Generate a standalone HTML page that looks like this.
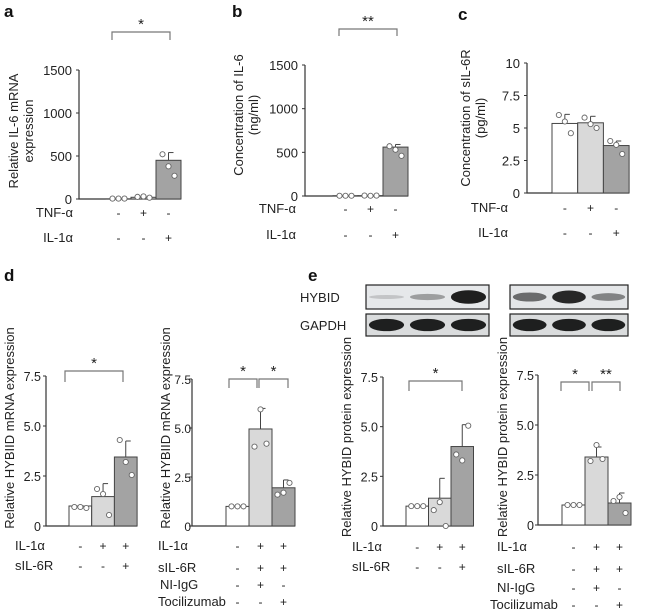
<!DOCTYPE html>
<html><head><meta charset="utf-8">
<style>
html,body{margin:0;padding:0;background:#fff;}
svg{display:block;font-family:"Liberation Sans",Arial,sans-serif;}
</style></head>
<body>
<svg id="fig" width="646" height="613" viewBox="0 0 646 613"></svg>
<script>
// ---- data ----
const aValues=[1,20,450], aErr=[0,0,90], aPts=[[5,5,5],[25,30,15],[520,380,270]], aTicks=[0,500,1000,1500];
const bValues=[3,4,560], bErr=[0,0,30], bPts=[[3,3,3],[5,3,5],[570,530,460]], bTicks=[0,500,1000,1500];
const cValues=[5.35,5.4,3.65], cErr=[0.7,0.5,0.35], cPts=[[6.0,5.5,4.6],[5.8,5.3,5.0],[4.0,3.7,3.0]], cTicks=[0,2.5,5,7.5,10], cTickLabels=["0","2.5","5","7.5","10"];
const d1Values=[1.0,1.47,3.45], d1Err=[0,0.65,0.8], d1Pts=[[0.95,0.95,0.9],[1.85,1.6,0.55],[4.3,3.2,2.55]];
const d2Values=[1.0,4.95,1.95], d2Err=[0,1.05,0.4], d2Pts=[[1,1,1],[4.05,5.95,4.2],[1.6,1.7,2.2]];
const e1Values=[1.0,1.4,4.0], e1Err=[0,1.0,1.1], e1Pts=[[1,1,1],[0.8,1.2,0],[3.6,3.3,5.05]];
const e2Values=[1.0,3.4,1.1], e2Err=[0,0.5,0.5], e2Pts=[[1,1,1],[3.2,4.0,3.3],[1.2,1.4,0.6]];
const hTicks=[0,2.5,5,7.5], hTickLabels=["0","2.5","5.0","7.5"];

const NS="http://www.w3.org/2000/svg";
const svg=document.getElementById('fig');
function el(tag,attrs,parent,text){const e=document.createElementNS(NS,tag);for(const k in attrs)e.setAttribute(k,attrs[k]);if(text!==undefined)e.textContent=text;(parent||svg).appendChild(e);return e;}
const fills=["#ffffff","#d9d9d9","#a3a3a3"];

function panel(name,cfg){
  const g=el('g',{},svg);
  
  
  const y=v=>cfg.y0-(v-cfg.min)/(cfg.max-cfg.min)*(cfg.y0-cfg.ytop);
  const bw=cfg.bw;
  const toff=cfg.toff||7, tfs=cfg.tfs||13;
  const ax=el('path',{d:`M${cfg.ax} ${cfg.ytop}V${cfg.y0}H${cfg.bx0+3*bw}`,stroke:'#333',fill:'none','stroke-width':1.2},g);
  
  cfg.ticks.forEach((t,i)=>{
    el('line',{x1:cfg.ax-3,x2:cfg.ax,y1:y(t),y2:y(t),stroke:'#333'},g);
    const tl=el('text',{x:cfg.ax-toff,y:y(t)+5,'text-anchor':'end','font-size':tfs,fill:'#222'},g,cfg.tickLabels?cfg.tickLabels[i]:String(t));
    
  });
  cfg.values.forEach((v,i)=>{
    const x0=cfg.bx0+i*bw;
    const r=el('rect',{x:x0,y:y(v),width:bw,height:cfg.y0-y(v),fill:fills[i],stroke:'#444','stroke-width':1},g);
    
    const cx=x0+bw/2;
    if(cfg.err[i]>0){
      el('line',{x1:cx,x2:cx,y1:y(v),y2:y(v+cfg.err[i]),stroke:'#444'},g);
      el('line',{x1:cx,x2:cx+5,y1:y(v+cfg.err[i]),y2:y(v+cfg.err[i]),stroke:'#444'},g);
    }
    cfg.pts[i].forEach((p,j)=>{
      const c=el('circle',{cx:cx-6+j*6,cy:y(p),r:2.6,fill:'#fff',stroke:'#666','stroke-width':0.9},g);
      
    });
  });
  const tx=el('text',{transform:`translate(${cfg.tx},${cfg.tcy}) rotate(-90)`,'text-anchor':'middle','font-size':13,fill:'#222'},g);
  
  cfg.title.forEach((t,i)=>el('tspan',{x:0,dy:i?15:0},tx,t));
  cfg.brackets.forEach(b=>{
    const br=el('path',{d:`M${b[0]} ${b[3]}V${b[2]}H${b[1]}V${b[3]}`,stroke:'#777',fill:'none','stroke-width':1.2},g);
    
    const s=el('text',{x:(b[0]+b[1])/2,y:b[2]-3,'text-anchor':'middle','font-size':15,fill:'#222'},g,b[4]);
    
  });
  cfg.rows.forEach(r=>{
    const l=el('text',{x:r[1],y:r[2],'font-size':13,fill:'#222','text-anchor':r[4]||'start'},g,r[0]);
    
    r[3].forEach((s,i)=>{el('text',{x:cfg.bx0+i*bw+bw/2,y:r[2],'text-anchor':'middle','font-size':12,fill:'#222'},g,s);});
  });
}
function letter(t,x,y){const l=el('text',{x:x,y:y,'font-size':17,'font-weight':'bold',fill:'#111'},svg,t);}
letter('a',4,17);letter('b',232,17);letter('c',458,20);letter('d',4,281);letter('e',308,281);

panel('panel-a',{ax:79,ytop:70,y0:199,min:0,max:1500,bx0:106,bw:25,ticks:aTicks,values:aValues,err:aErr,pts:aPts,
 tx:18,tcy:131,title:['Relative IL-6 mRNA','expression'],brackets:[[112,170,32,40,'*']],
 rows:[['TNF-α',73,217,['-','+','-'],'end'],['IL-1α',73,242,['-','-','+'],'end']]});
panel('panel-b',{ax:305,ytop:65,y0:196,min:0,max:1500,bx0:333,bw:25,ticks:bTicks,values:bValues,err:bErr,pts:bPts,
 tx:243,tcy:115,title:['Concentration of IL-6','(ng/ml)'],brackets:[[339,397,29,36,'**']],
 rows:[['TNF-α',296,213,['-','+','-'],'end'],['IL-1α',296,239,['-','-','+'],'end']]});
panel('panel-c',{ax:527,ytop:63,y0:193,min:0,max:10,bx0:552,bw:25.7,ticks:cTicks,tickLabels:cTickLabels,values:cValues,err:cErr,pts:cPts,
 tx:470,tcy:118,title:['Concentration of sIL-6R','(pg/ml)'],brackets:[],
 rows:[['TNF-α',508,212,['-','+','-'],'end'],['IL-1α',508,237,['-','-','+'],'end']]});
panel('panel-d-left',{ax:46,ytop:376,y0:526,min:0,max:7.5,bx0:69,bw:22.7,toff:5,tfs:12.5,ticks:hTicks,tickLabels:hTickLabels,values:d1Values,err:d1Err,pts:d1Pts,
 tx:14,tcy:428,title:['Relative HYBIID mRNA expression'],brackets:[[65,123,371,382,'*']],
 rows:[['IL-1α',15,550,['-','+','+']],['sIL-6R',15,570,['-','-','+']]]});
panel('panel-d-right',{ax:192,ytop:379,y0:526,min:0,max:7.5,bx0:226,bw:23,toff:1,tfs:12,ticks:hTicks,tickLabels:hTickLabels,values:d2Values,err:d2Err,pts:d2Pts,
 tx:170,tcy:428,title:['Relative HYBIID mRNA expression'],brackets:[[229,257,379,388,'*'],[259,288,379,388,'*']],
 rows:[['IL-1α',158,550,['-','+','+']],['sIL-6R',158,572,['-','+','+']],['NI-IgG',160,589,['-','+','-']],['Tocilizumab',158,606,['-','-','+']]]});
panel('panel-e-left',{ax:383,ytop:377,y0:526,min:0,max:7.5,bx0:406,bw:22.5,toff:5,tfs:12.5,ticks:hTicks,tickLabels:hTickLabels,values:e1Values,err:e1Err,pts:e1Pts,
 tx:351,tcy:437,title:['Relative HYBID protein expression'],brackets:[[409,462,381,391,'*']],
 rows:[['IL-1α',352,551,['-','+','+']],['sIL-6R',352,571,['-','-','+']]]});
panel('panel-e-right',{ax:538,ytop:375,y0:525,min:0,max:7.5,bx0:562,bw:23,toff:4,tfs:12.5,ticks:hTicks,tickLabels:hTickLabels,values:e2Values,err:e2Err,pts:e2Pts,
 tx:507,tcy:437,title:['Relative HYBID protein expression'],brackets:[[561,589,382,391,'*'],[592,620,382,391,'**']],
 rows:[['IL-1α',497,551,['-','+','+']],['sIL-6R',497,573,['-','+','+']],['NI-IgG',497,592,['-','+','-']],['Tocilizumab',490,609,['-','-','+']]]});

function blot(name,x,y,w,h,bands,bg){
  const g=el('g',{},svg);
  
  el('rect',{x:x,y:y,width:w,height:h,fill:bg,stroke:'#222','stroke-width':1.2},g);
  bands.forEach((b,i)=>{
    const cx=x+w*(i+0.5)/3;
    if(b>0)el('ellipse',{cx:cx,cy:y+h/2,rx:w/7,ry:h*0.08+h*0.2*b,fill:`rgba(20,20,20,${0.15+0.8*b})`},g);
  });
}
blot('blot-hybid-left',366,285,123,24,[0.02,0.25,1],'#e6e8ea');
blot('blot-gapdh-left',366,314,123,22,[1,1,1],'#dadcdd');
blot('blot-hybid-right',510,285,118,24,[0.55,0.95,0.4],'#e4e6e8');
blot('blot-gapdh-right',510,314,118,22,[1,1,1],'#dadcdd');
const h1=el('text',{x:300,y:302,'font-size':13,fill:'#222'},svg,'HYBID');
const h2=el('text',{x:300,y:330,'font-size':13,fill:'#222'},svg,'GAPDH');
</script>
</body></html>
